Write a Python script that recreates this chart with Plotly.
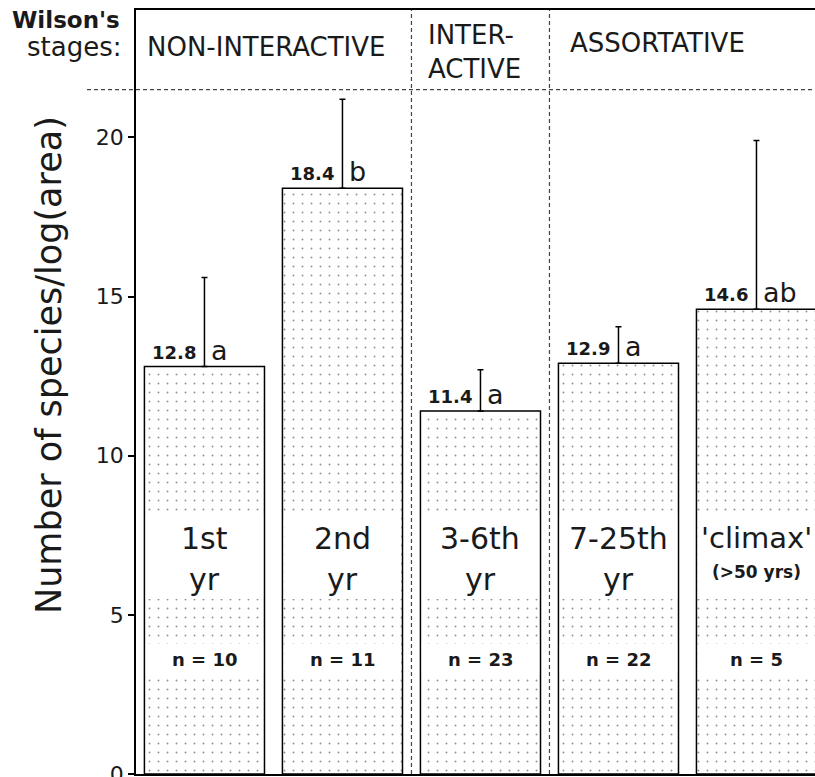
import plotly.graph_objects as go

# ---- data ----
categories = ["1st yr", "2nd yr", "3-6th yr", "7-25th yr", "climax"]
means = [12.8, 18.4, 11.4, 12.9, 14.6]
err_up = [2.8, 2.8, 1.3, 1.15, 5.3]
value_labels = ["12.8", "18.4", "11.4", "12.9", "14.6"]
letters = ["a", "b", "a", "a", "ab"]
label_line1 = ["1st", "2nd", "3-6th", "7-25th", "'climax'"]
label_line2 = ["yr", "yr", "yr", "yr", "(>50 yrs)"]
n_labels = ["n = 10", "n = 11", "n = 23", "n = 22", "n = 5"]
stage_names = ["NON-INTERACTIVE", "INTER-<br>ACTIVE", "ASSORTATIVE"]
stage_bounds = [1.5, 2.5]
stage_line_y = 21.5
y_ticks = [0, 5, 10, 15, 20]

# ---- layout geometry (pixels) ----
W_FIG, H_FIG = 815, 777
L, R, T, B = 136, 0, 10, 3
PW, PH = W_FIG - L - R, H_FIG - T - B
FONT = "DejaVu Sans"
INK = "#1a1a1a"


def px_x(px):
    return (px - L) / PW


def px_y(py):
    return 1 - (py - T) / PH


xs = list(range(len(categories)))

fig = go.Figure()
fig.add_trace(go.Bar(
    x=xs, y=means, width=0.87,
    marker=dict(
        color="white",
        line=dict(color="black", width=1.5),
        pattern=dict(shape=".", fgcolor="#222222", bgcolor="white",
                     size=9, solidity=0.035, fillmode="overlay"),
    ),
    error_y=dict(type="data", symmetric=False, array=err_up,
                 arrayminus=[0] * len(means), color="black",
                 thickness=1.5, width=3),
    hoverinfo="skip",
))

shapes = []
# white label bands inside bars
for i in xs:
    shapes.append(dict(type="rect", xref="x", yref="y", x0=i - 0.425, x1=i + 0.425,
                       y0=5.5, y1=8.07, fillcolor="white", line=dict(width=0), layer="above"))
    shapes.append(dict(type="rect", xref="x", yref="y", x0=i - 0.425, x1=i + 0.425,
                       y0=3.17, y1=4.08, fillcolor="white", line=dict(width=0), layer="above"))
# stage separators
for b in stage_bounds:
    shapes.append(dict(type="line", xref="x", yref="paper", x0=b, x1=b, y0=0, y1=1,
                       line=dict(color="#444", width=1.2, dash="4px,3px")))
shapes.append(dict(type="line", xref="paper", yref="y", x0=px_x(87), x1=1,
                   y0=stage_line_y, y1=stage_line_y,
                   line=dict(color="#444", width=1.2, dash="4px,3px")))

ann = []
for i in xs:
    ann.append(dict(x=i, y=means[i], xref="x", yref="y", text=value_labels[i],
                    xanchor="right", yanchor="bottom", xshift=-6, yshift=2, showarrow=False,
                    font=dict(family=FONT, size=18, color=INK, weight="bold")))
    ann.append(dict(x=i, y=means[i], xref="x", yref="y", text=letters[i],
                    xanchor="left", yanchor="bottom", xshift=5, yshift=-1, showarrow=False,
                    font=dict(family=FONT, size=27, color=INK)))
    ann.append(dict(x=i, y=7.4, xref="x", yref="y", text=label_line1[i],
                    xanchor="center", yanchor="middle", showarrow=False,
                    font=dict(family=FONT, size=30 if i < len(xs) - 1 else 29, color=INK)))
    if i == len(xs) - 1:
        ann.append(dict(x=i, y=6.35, xref="x", yref="y", text=label_line2[i],
                        xanchor="center", yanchor="middle", showarrow=False,
                        font=dict(family=FONT, size=17, color=INK, weight="bold")))
    else:
        ann.append(dict(x=i, y=6.1, xref="x", yref="y", text=label_line2[i],
                        xanchor="center", yanchor="middle", showarrow=False,
                        font=dict(family=FONT, size=30, color=INK)))
    ann.append(dict(x=i, y=3.6, xref="x", yref="y", text=n_labels[i],
                    xanchor="center", yanchor="middle", showarrow=False,
                    font=dict(family=FONT, size=18, color=INK, weight="bold")))

# header texts
ann.append(dict(x=px_x(122), y=px_y(20), xref="paper", yref="paper", text="Wilson's",
                xanchor="right", yanchor="middle", showarrow=False,
                font=dict(family=FONT, size=23, color=INK, weight="bold")))
ann.append(dict(x=px_x(123), y=px_y(47), xref="paper", yref="paper", text="stages:",
                xanchor="right", yanchor="middle", showarrow=False,
                font=dict(family=FONT, size=26, color=INK)))
stage_pos = [(145, 47), (426, 51.5), (568, 43)]
for name, (sx, sy) in zip(stage_names, stage_pos):
    ann.append(dict(x=px_x(sx), y=px_y(sy), xref="paper", yref="paper", text=name,
                    xanchor="left", yanchor="middle", showarrow=False, align="left",
                    font=dict(family=FONT, size=26, color=INK)))
# y-axis title
ann.append(dict(x=px_x(49), y=px_y(365), xref="paper", yref="paper",
                text="Number of species/log(area)", textangle=-90,
                xanchor="center", yanchor="middle", showarrow=False,
                font=dict(family=FONT, size=35, color=INK)))

fig.update_layout(
    width=W_FIG, height=H_FIG,
    margin=dict(l=L, r=R, t=T, b=B, pad=0, autoexpand=False),
    paper_bgcolor="white", plot_bgcolor="white",
    showlegend=False,
    shapes=shapes, annotations=ann,
    xaxis=dict(range=[-0.496, 4.424], showticklabels=False, ticks="",
               showgrid=False, zeroline=False, showline=True, mirror=True,
               automargin=False,
               linecolor="black", linewidth=1.5, fixedrange=True),
    yaxis=dict(range=[0, 24], tickvals=y_ticks, ticks="outside", ticklen=6,
               tickwidth=1.5, tickcolor="black", showgrid=False, zeroline=False,
               showline=True, linecolor="black", linewidth=1.5,
               ticklabeloverflow="allow", automargin=False,
               tickfont=dict(family=FONT, size=22, color=INK), fixedrange=True),
)

fig.write_html("out.html", config={"displayModeBar": False},
               post_script="document.body.style.margin='0';")
